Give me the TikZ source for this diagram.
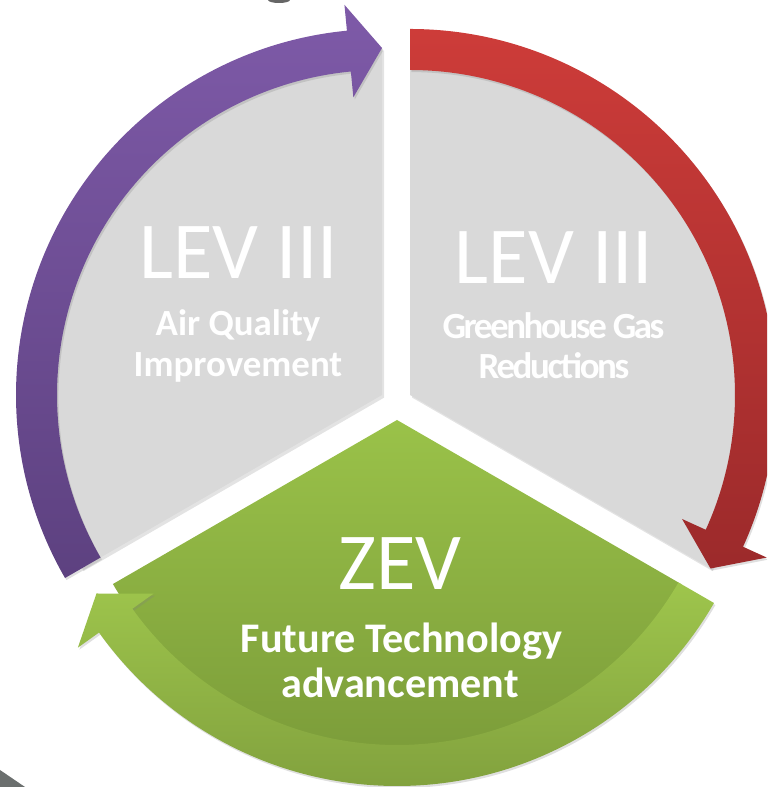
\documentclass[tikz,border=0pt]{standalone}
\usepackage{fontspec}
\setmainfont{Carlito}
\usepackage{tikz}
\usetikzlibrary{shadows}
\definecolor{sectorgray}{HTML}{D9D9D9}
\definecolor{levpurpletop}{HTML}{7E5AA8}
\definecolor{levpurplebot}{HTML}{5D4180}
\definecolor{levredtop}{HTML}{CD3C39}
\definecolor{levredbot}{HTML}{9C2A2B}
\definecolor{zevlight}{HTML}{9EC54C}
\definecolor{zevlightbot}{HTML}{82A23E}
\definecolor{zevtop}{HTML}{9AC249}
\definecolor{zevbot}{HTML}{789838}
\definecolor{edgegray}{HTML}{6B6F6E}
% ring arrow around the current origin, tip at angle #1, running clockwise over 120 degrees
\newcommand{\ringarrow}[1]{(#1+120:325) -- (#1+120:366)
  arc[start angle=#1+120, end angle=#1+5.5, radius=366]
  -- (#1+5.5:392) -- (#1:347) -- (#1+5.5:299) -- (#1+5.5:325)
  arc[start angle=#1+5.5, end angle=#1+120, radius=325] -- cycle}
\newcommand{\bigtxt}   {\fontsize{46}{50}\selectfont}
\newcommand{\subtxt}   {\fontsize{21}{24}\selectfont\bfseries}
\newcommand{\zevtxt}   {\fontsize{24}{28}\selectfont\bfseries}

\begin{document}
\begin{tikzpicture}[x=0.02cm,y=0.02cm,
    sector/.style={fill=sectorgray,drop shadow={opacity=.22,shadow xshift=1.2pt,shadow yshift=-1.5pt}},
    ringshadow/.style={drop shadow={opacity=.25,shadow xshift=.8pt,shadow yshift=-1.2pt}},
    label/.style={text=white,inner sep=0pt,anchor=base}]
     \useasboundingbox (0,0) rectangle (767,787);
     \clip (0,0) rectangle (767,787);
     \coordinate (cL) at (382,392);
     \coordinate (cR) at (410,392);
     \coordinate (cZ) at (397,367);
     % upper left sector
     \begin{scope}[shift={(cL)}]
     \fill[sector] (0,0) -- (90:347) arc[start angle=90,end angle=210,radius=347] -- cycle;
     \shade[ringshadow,top color=levpurpletop,bottom color=levpurplebot] \ringarrow{90};
     \end{scope}
     % upper right sector
     \begin{scope}[shift={(cR)}]
     \fill[sector] (0,0) -- (-30:347) arc[start angle=-30,end angle=90,radius=347] -- cycle;
     \shade[ringshadow,top color=levredtop,bottom color=levredbot] \ringarrow{-30};
     \end{scope}
     % lower sector
     \begin{scope}[shift={(cZ)}]
     \shade[ringshadow,top color=zevtop,bottom color=zevbot] (0,0) -- (210:328) arc[start angle=210,end angle=330,radius=328] -- cycle;
     \shade[ringshadow,top color=zevlight,bottom color=zevlightbot] \ringarrow{210};
     \end{scope}
     \fill[edgegray] (0,0) -- (0,17) -- (25,0) -- cycle;
     \fill[black!75,opacity=.8] (279,787) ellipse[x radius=11,y radius=3];
     \node[label] (levL) at (238.5,508) {\bigtxt LEV III};
     \node[label] (aq1)  at (238,451)   {\subtxt Air Quality};
     \node[label] (aq2)  at (238,410)   {\subtxt Improvement};
     \node[label] (levR) at (554,503)   {\bigtxt LEV III};
     \node[label] (gh1)  at (553.5,448) {\subtxt\addfontfeature{LetterSpace=-6.5} Greenhouse Gas};
     \node[label] (gh2)  at (554,408)   {\subtxt\addfontfeature{LetterSpace=-6.5} Reductions};
     \node[label] (zev)  at (400,197)   {\bigtxt ZEV};
     \node[label] (ft1)  at (401.5,134) {\zevtxt Future Technology};
     \node[label] (ft2)  at (400,89)    {\zevtxt advancement};
    \end{tikzpicture}
\end{document}
